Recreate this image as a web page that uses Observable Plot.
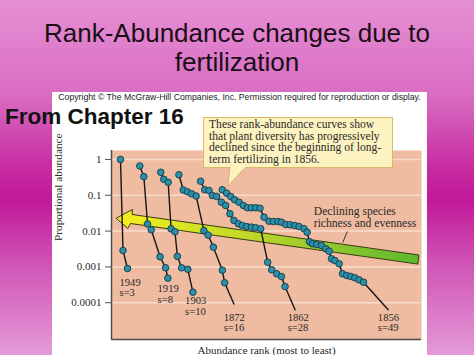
<!DOCTYPE html>
<html><head><meta charset="utf-8">
<script src="https://cdn.jsdelivr.net/npm/d3@7"></script>
<script src="https://cdn.jsdelivr.net/npm/@observablehq/plot@0.6"></script>
<style>
html,body{margin:0;padding:0;}
body{width:474px;height:355px;overflow:hidden;position:relative;
 background:linear-gradient(to bottom,#e690d4 0px,#d96cc2 95px,#c62aa0 170px,#c2189a 200px,#d055b6 265px,#e49ad8 355px);
 font-family:"Liberation Sans",Arial,sans-serif;}
.title{position:absolute;left:0;width:474px;text-align:center;font-size:26px;line-height:29px;color:#1a0f16;top:19px;}
#panel{position:absolute;left:52px;top:92px;width:375px;height:263px;background:#fff;}
#copy{position:absolute;left:52px;width:375px;top:93px;text-align:center;font-size:8.7px;line-height:9px;color:#222;white-space:nowrap;}
#chapter{position:absolute;left:5px;top:106px;font-size:22.5px;line-height:22px;font-weight:bold;color:#111;white-space:nowrap;}
#chart{position:absolute;left:52px;top:92px;}
#note{position:absolute;left:203px;top:117px;width:183px;height:48px;padding:1px 0 0 5px;background:#fdf3c0;border:1px solid #d9b86a;
 font-family:"Liberation Serif","Times New Roman",serif;font-size:11.6px;line-height:11.6px;color:#2a2a2a;white-space:nowrap;}
#pointer{position:absolute;left:0;top:0;}
</style></head>
<body>
<div class="title" id="title"></div>
<div id="panel"></div>
<div id="copy"></div>
<div id="chapter"></div>
<div id="chart"></div>
<svg id="pointer" width="474" height="355"><polygon points="230,166.5 246,166.5 228,186" fill="#fdf3c0" stroke="#d9b86a" stroke-width="1"/></svg>
<div id="note"></div>
<svg id="pointer2" width="474" height="355" style="position:absolute;left:0;top:0"><line x1="230.8" y1="167.4" x2="245.2" y2="167.4" stroke="#fdf3c0" stroke-width="2"/></svg>
<script>
// ---- text ----
const titleLines = ["Rank-Abundance changes due to", "fertilization"];
const copyrightText = "Copyright \u00A9 The McGraw-Hill Companies, Inc. Permission required for reproduction or display.";
const chapterText = "From Chapter 16";
const calloutLines = ["These rank-abundance curves show", "that plant diversity has progressively", "declined since the beginning of long-", "term fertilizing in 1856."];
const yAxisLabel = "Proportional abundance";
const xAxisLabel = "Abundance rank (most to least)";
const trendNote = "Declining species\nrichness and evenness";

// ---- series ----
const years = ["1949", "1919", "1903", "1872", "1862", "1856"];
const speciesCount = [3, 8, 10, 16, 28, 49];

const rank1949 = [2.09, 2.67, 3.72];
const abund1949 = [1.0, 0.00287, 0.000903];

const rank1919 = [6.58, 7.51, 8.37, 9.23, 11.28, 12.56, 13.09];
const abund1919 = [0.658, 0.331, 0.0158, 0.0109, 0.00192, 0.000944, 0.000484];

const rank1903 = [11.44, 12.14, 13.16, 13.84, 14.74, 15.30, 16.28, 17.72, 18.91];
const abund1903 = [0.439, 0.280, 0.231, 0.0116, 0.00957, 0.00198, 0.000944, 0.000858, 0.000197];

const rank1872 = [15.65, 16.67, 17.63, 18.60, 19.65, 21.47, 22.44, 23.67, 25.74, 26.28];
const abund1872 = [0.376, 0.140, 0.125, 0.110, 0.0957, 0.0103, 0.00774, 0.00356, 0.000809, 0.000360];

const rank1862 = [20.70, 21.67, 22.65, 23.42, 24.42, 25.51, 26.51, 27.51, 28.44, 29.47, 30.40, 31.40, 32.49, 33.49, 34.65, 36.28, 37.21, 38.37, 39.47, 40.30];
const abund1862 = [0.246, 0.1425, 0.136, 0.0988, 0.0926, 0.0642, 0.0519, 0.0304, 0.0198, 0.0160, 0.0143, 0.0134, 0.0129, 0.0124, 0.0116, 0.00135, 0.000830, 0.000643, 0.000540, 0.000284];

const rank1856 = [25.74, 26.74, 27.67, 28.60, 29.60, 30.63, 31.56, 32.49, 33.49, 34.49, 35.42, 36.58, 37.60, 38.67, 39.47, 40.47, 41.47, 42.56, 43.56, 44.72, 45.44, 45.98, 46.67, 47.67, 48.77, 49.77, 50.53, 51.09, 51.86, 52.86, 53.65, 54.65, 55.58, 56.51, 57.51, 58.53];
const abund1856 = [0.1425, 0.1145, 0.0926, 0.0749, 0.0642, 0.0519, 0.0448, 0.0448, 0.0448, 0.0436, 0.0245, 0.0189, 0.0185, 0.0185, 0.0177, 0.0153, 0.0150, 0.0143, 0.0134, 0.0116, 0.00933, 0.00506, 0.00442, 0.00423, 0.00396, 0.00321, 0.00275, 0.00169, 0.00151, 0.00122, 0.000643, 0.000575, 0.000540, 0.000497, 0.000436, 0.000374];

// unmarked tail of the rarest species (line only)
const tailRank = [null, null, null, 28.44, 42.63, 64.26];
const tailAbund = [null, null, null, 0.0000921, 0.0000634, 0.0000634];

// series labels
const labelRank = [1.86, 10.70, 17.09, 26.05, 40.93, 61.86];
const labelAbund = [0.000266, 0.000177, 0.000082, 0.000028, 0.000028, 0.000028];

// y ticks
const tickValues = [1, 0.1, 0.01, 0.001, 0.0001];
const tickLabels = ["1", "0.1", "0.01", "0.001", "0.0001"];

// trend arrow outline (rank, abundance)
const arrowRank = [1.16, 4.88, 4.77, 71.4, 71.16, 4.42, 3.84];
const arrowAbund = [0.0232, 0.0401, 0.0291, 0.00215, 0.00120, 0.0163, 0.0122];

// trend note position and leader
const noteRank = [46.98];
const noteAbund = [0.0244];
const leaderRank = [53.72, 54.77];
const leaderAbund = [0.00481, 0.00975];

// ---- build tables ----
const rankSets = [rank1949, rank1919, rank1903, rank1872, rank1862, rank1856];
const abundSets = [abund1949, abund1919, abund1903, abund1872, abund1862, abund1856];
const points = [];
years.forEach((yr, k) => {
  rankSets[k].forEach((r, i) => points.push({year: yr, rank: r, abundance: abundSets[k][i], marked: true}));
  if (tailRank[k] != null) points.push({year: yr, rank: tailRank[k], abundance: tailAbund[k], marked: false});
});
const labelTable = years.map((yr, k) => ({text: yr + "\ns=" + speciesCount[k], rank: labelRank[k], abundance: labelAbund[k]}));
const arrowTable = arrowRank.map((r, i) => ({rank: r, abundance: arrowAbund[i]}));
const tickMap = new Map(tickValues.map((v, i) => [v, tickLabels[i]]));

document.getElementById("title").innerHTML = titleLines.join("<br>");
document.getElementById("copy").textContent = copyrightText;
document.getElementById("chapter").textContent = chapterText;
document.getElementById("note").innerHTML = calloutLines.join("<br>");

const yMin = 9.4e-6, yMax = 1.78;
const serif = "'Liberation Serif','Times New Roman',serif";

const chart = Plot.plot({
  width: 375, height: 263,
  marginLeft: 59, marginTop: 58, marginRight: 6, marginBottom: 16,
  style: {background: "transparent", fontFamily: serif, fontSize: "11px", color: "#2a2a2a", overflow: "visible"},
  x: {domain: [0, 72], axis: null},
  y: {type: "log", domain: [yMin, yMax], axis: null},
  marks: [
    Plot.frame({fill: "#f0bca1", stroke: "none"}),
    Plot.ruleY(tickValues, {stroke: "#f8dccc", strokeWidth: 1.5}),
    Plot.line(arrowTable, {x: "rank", y: "abundance", curve: "linear-closed", fill: "url(#declineGrad)", stroke: "#3c3a12", strokeWidth: 1}),
    Plot.line(points, {x: "rank", y: "abundance", z: "year", stroke: "#161616", strokeWidth: 1.4}),
    Plot.dot(points.filter(d => d.marked), {x: "rank", y: "abundance", r: 3.3, fill: "#2c8fa8", stroke: "#12384a", strokeWidth: 0.9}),
    Plot.text(labelTable, {x: "rank", y: "abundance", text: "text", textAnchor: "start", lineAnchor: "middle", lineHeight: 1.02, fontSize: 10.6, fill: "#2a2a2a"}),
    Plot.text([trendNote], {x: () => noteRank[0], y: () => noteAbund[0], text: d => d, textAnchor: "start", lineAnchor: "middle", lineHeight: 1.05, fontSize: 11.6, fill: "#2a2a2a"}),
    Plot.link([0], {x1: () => leaderRank[0], y1: () => leaderAbund[0], x2: () => leaderRank[1], y2: () => leaderAbund[1], stroke: "#333", strokeWidth: 1}),
    Plot.ruleX([0], {stroke: "#4d4d4d", strokeWidth: 1.5}),
    Plot.ruleY([yMin], {stroke: "#4d4d4d", strokeWidth: 1.5}),
    Plot.axisY(tickValues, {tickFormat: d => tickMap.get(d), tickSize: 6, tickPadding: 4, fontSize: 11, label: null, stroke: "#555", fill: "#2a2a2a"}),
    Plot.text([yAxisLabel], {frameAnchor: "left", rotate: -90, dx: -53, dy: -4, fontSize: 11.3, fill: "#2a2a2a"}),
    Plot.text([xAxisLabel], {frameAnchor: "bottom", lineAnchor: "bottom", dy: 14.5, fontSize: 11, fill: "#2a2a2a"})
  ]
});
chart.insertAdjacentHTML("afterbegin", '<defs><linearGradient id="declineGrad" x1="0" x2="1" y1="0" y2="0"><stop offset="0" stop-color="#f6f01c"/><stop offset="0.45" stop-color="#bcd62a"/><stop offset="1" stop-color="#5cb830"/></linearGradient></defs>');
document.getElementById("chart").appendChild(chart);
</script>
</body></html>
